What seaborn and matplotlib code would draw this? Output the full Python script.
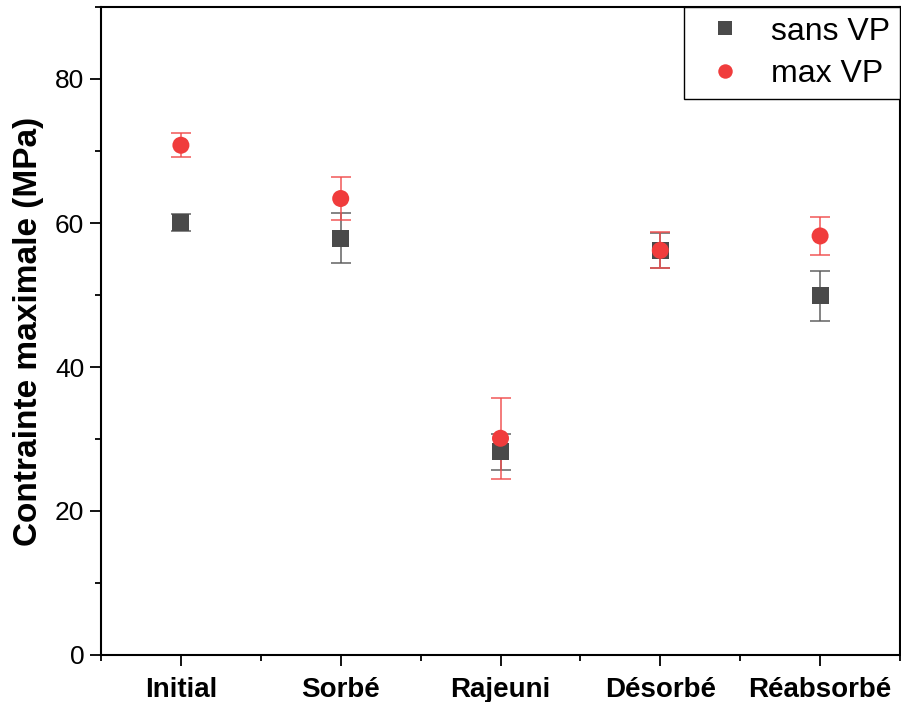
import numpy as np
import pandas as pd
import matplotlib
matplotlib.use("Agg")
import matplotlib.pyplot as plt
from matplotlib.ticker import MultipleLocator, FixedLocator
import seaborn as sns

categories = ["Initial", "Sorbé", "Rajeuni", "Désorbé", "Réabsorbé"]
sans_vp = [60.1, 57.9, 28.2, 56.2, 49.9]
sans_vp_err = [1.2, 3.5, 2.5, 2.4, 3.5]
max_vp = [70.8, 63.4, 30.1, 56.2, 58.2]
max_vp_err = [1.7, 3.0, 5.6, 2.5, 2.7]
series_names = ["sans VP", "max VP"]

sns.set_theme(style="ticks")
plt.rcParams['font.family'] = ['Liberation Sans', 'DejaVu Sans']
plt.rcParams['text.color'] = 'black'
plt.rcParams['axes.labelcolor'] = 'black'
plt.rcParams['xtick.color'] = 'black'
plt.rcParams['ytick.color'] = 'black'

df = pd.DataFrame({
    "cat": categories * 2,
    "val": sans_vp + max_vp,
    "err": sans_vp_err + max_vp_err,
    "serie": [series_names[0]] * 5 + [series_names[1]] * 5,
})
df["x"] = df["cat"].map({c: i for i, c in enumerate(categories)})

fig = plt.figure(figsize=(9.01, 7.02), dpi=100)
ax = fig.add_axes([101/901, 1-655/702, 799/901, 648/702])

colors = {"sans VP": "#4a4a4a", "max VP": "#f03c3c"}
errcolors = {"sans VP": (0.35, 0.35, 0.35, 0.8), "max VP": (0.94, 0.3, 0.3, 0.8)}
markers = {"sans VP": "s", "max VP": "o"}

for name in series_names:
    sub = df[df["serie"] == name]
    ax.errorbar(sub["x"], sub["val"], yerr=sub["err"], fmt="none",
                ecolor=errcolors[name], elinewidth=1.3, capsize=7, capthick=1.3, zorder=2)

sns.scatterplot(data=df, x="x", y="val", hue="serie", style="serie",
                palette=colors, markers=markers, s=150, linewidth=0,
                ax=ax, zorder=3, legend=True)

ax.set_xlim(-0.5, 4.5)
ax.set_ylim(0, 90)
ax.set_xticks(range(len(categories)))
ax.set_xticklabels(categories, fontsize=20, fontweight="bold")
ax.xaxis.set_minor_locator(FixedLocator(np.arange(-0.5, 4.6, 1.0)))
ax.yaxis.set_major_locator(MultipleLocator(20))
ax.yaxis.set_minor_locator(MultipleLocator(10))
ax.tick_params(axis="y", which="major", labelsize=19, length=8, width=1.3, direction="out", pad=4)
ax.tick_params(axis="x", which="major", length=8, width=1.3, direction="out", pad=8)
ax.tick_params(which="minor", length=4, width=1.3, direction="out")
ax.set_xlabel("")
ax.set_ylabel("Contrainte maximale (MPa)", fontsize=24, fontweight="bold", labelpad=8)
for s in ax.spines.values():
    s.set_linewidth(1.5)
    s.set_color("black")

leg = ax.legend(loc="upper right", fontsize=23, frameon=True, fancybox=False,
                edgecolor="black", framealpha=1, borderaxespad=0,
                handlelength=2.0, handletextpad=0.44, borderpad=0.3,
                labelspacing=0.4, markerscale=0.85)
leg.get_frame().set_linewidth(1.0)

fig.savefig("out.png", dpi=100)
